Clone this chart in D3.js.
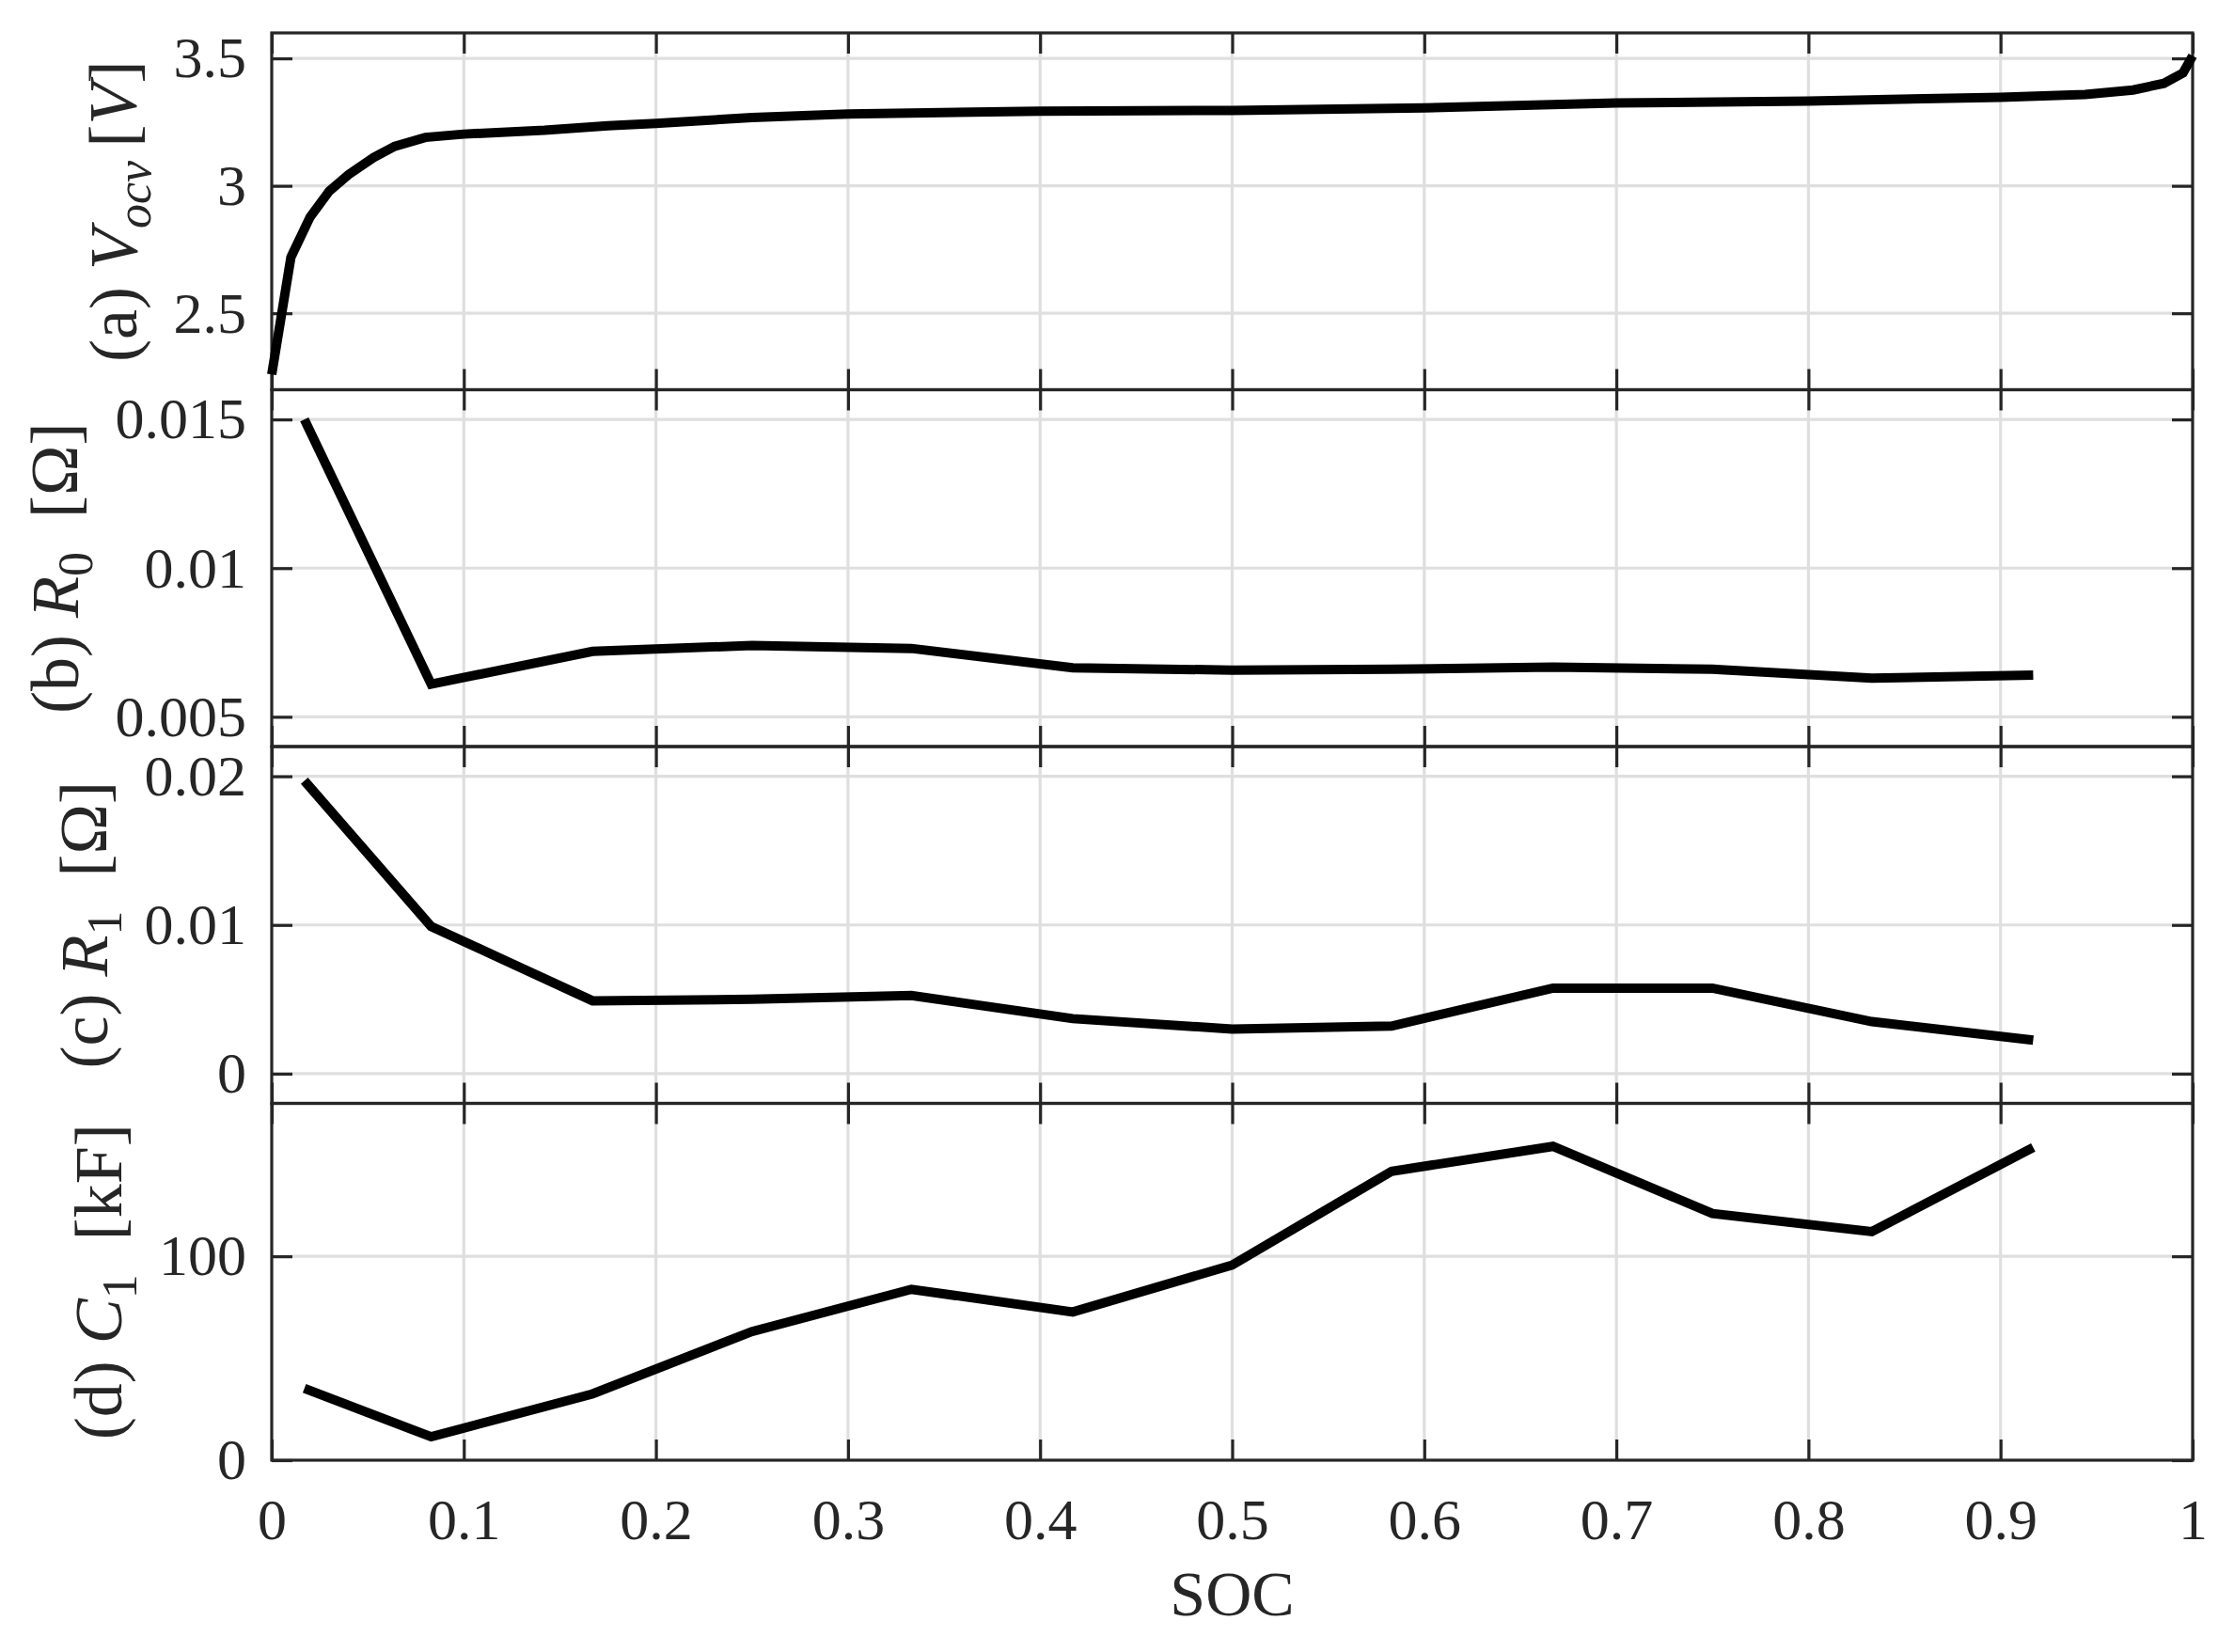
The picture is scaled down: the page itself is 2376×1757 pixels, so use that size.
<!DOCTYPE html>
<html>
<head>
<meta charset="utf-8">
<script src="https://cdn.jsdelivr.net/npm/d3@7"></script>
<style>
  body { margin: 0; background: #fff; }
  svg { display: block; }
  text { font-family: "Liberation Serif", "Times New Roman", serif; fill: #262626; }
</style>
</head>
<body>
<svg width="2376" height="1757"></svg>
<script>
// SOC sample points for the parameter curves
const socPts = [0.017, 0.083, 0.167, 0.25, 0.333, 0.417, 0.5, 0.583, 0.667, 0.75, 0.833, 0.917];
const r0 = [0.0150, 0.0061, 0.0072, 0.0074, 0.0073, 0.00665, 0.00657, 0.0066, 0.00667, 0.0066, 0.0063, 0.0064];
const r1 = [0.0197, 0.0099, 0.0049, 0.0050, 0.00525, 0.0037, 0.0030, 0.0032, 0.00575, 0.00575, 0.0035, 0.00225];
const c1 = [35.2, 11.5, 32.5, 63.1, 83.8, 72.7, 95.7, 141.7, 153.9, 121, 112.1, 153.4];

// open circuit voltage curve
const socOcv = [0, 0.01, 0.02, 0.03, 0.04, 0.053, 0.064, 0.08, 0.1, 0.142, 0.175, 0.2, 0.25, 0.3,
                0.4, 0.5, 0.6, 0.7, 0.8, 0.9, 0.944, 0.969, 0.985, 0.995, 1.0];
const vOcv = [2.26, 2.72, 2.878, 2.98, 3.044, 3.111, 3.155, 3.19, 3.203, 3.218, 3.236, 3.245, 3.268, 3.282,
              3.293, 3.296, 3.306, 3.325, 3.333, 3.347, 3.358, 3.376, 3.402, 3.443, 3.51];

const xTicks = [0, 0.1, 0.2, 0.3, 0.4, 0.5, 0.6, 0.7, 0.8, 0.9, 1];
const ticksA = [2.5, 3, 3.5];
const ticksB = [0.005, 0.01, 0.015];
const ticksC = [0, 0.01, 0.02];
const ticksD = [0, 100];

const svg = d3.select("svg");
const plotL = 289, plotR = 2332, plotT = 35, plotB = 1553;
const panelH = (plotB - plotT) / 4;
const tickLen = 22;
const axisColor = "#262626";
const gridColor = "#dfdfdf";

const x = d3.scaleLinear().domain([0, 1]).range([plotL, plotR]);

const panels = [
  { xs: socOcv, ys: vOcv, domain: [2.2, 3.6], ticks: ticksA,
    label: [["(a) ", ""], ["V", "i"], ["ocv", "is"], ["\u2009[", ""], ["V", "i"], ["]", ""]] },
  { xs: socPts, ys: r0, domain: [0.004, 0.016], ticks: ticksB,
    label: [["(b) ", ""], ["R", "i"], ["0", "s"], ["\u2002[Ω]", ""]] },
  { xs: socPts, ys: r1, domain: [-0.002, 0.022], ticks: ticksC,
    label: [["(c) ", ""], ["R", "i"], ["1", "s"], ["\u2002[Ω]", ""]] },
  { xs: socPts, ys: c1, domain: [0, 175], ticks: ticksD,
    label: [["(d) ", ""], ["C", "i"], ["1", "s"], ["\u2002[kF]", ""]] }
];

function styleAxis(g) {
  g.select(".domain").remove();
  g.selectAll(".tick line").attr("stroke", axisColor).attr("stroke-width", 3.2);
  g.selectAll(".tick text").attr("font-size", 62).attr("fill", axisColor)
    .attr("font-family", "Liberation Serif, Times New Roman, serif");
}

panels.forEach((p, i) => {
  const y0 = plotT + i * panelH, y1 = y0 + panelH;
  const y = d3.scaleLinear().domain(p.domain).range([y1, y0]);
  const g = svg.append("g");

  // grid
  g.append("g").selectAll("line")
    .data(xTicks.slice(1, -1)).enter().append("line")
    .attr("x1", d => x(d)).attr("x2", d => x(d))
    .attr("y1", y0).attr("y2", y1)
    .attr("stroke", gridColor).attr("stroke-width", 3.2);
  g.append("g").selectAll("line")
    .data(p.ticks.filter(t => y(t) > y0 + 2 && y(t) < y1 - 2)).enter().append("line")
    .attr("x1", plotL).attr("x2", plotR)
    .attr("y1", d => y(d)).attr("y2", d => y(d))
    .attr("stroke", gridColor).attr("stroke-width", 3.2);

  // ticks on all four sides, pointing inward
  const yl = g.append("g").attr("transform", `translate(${plotL},0)`)
    .call(d3.axisLeft(y).tickValues(p.ticks).tickSizeInner(-tickLen).tickSizeOuter(0)
      .tickPadding(27).tickFormat(d => String(d)))
    .call(styleAxis);
  g.append("g").attr("transform", `translate(${plotR},0)`)
    .call(d3.axisRight(y).tickValues(p.ticks).tickSizeInner(-tickLen).tickSizeOuter(0).tickFormat(""))
    .call(styleAxis);
  g.append("g").attr("transform", `translate(0,${y0})`)
    .call(d3.axisTop(x).tickValues(xTicks).tickSizeInner(-tickLen).tickSizeOuter(0).tickFormat(""))
    .call(styleAxis);
  g.append("g").attr("transform", `translate(0,${y1})`)
    .call(d3.axisBottom(x).tickValues(xTicks).tickSizeInner(-tickLen).tickSizeOuter(0)
      .tickPadding(40).tickFormat(i === 3 ? (d => String(d)) : ""))
    .call(styleAxis);

  // box
  g.append("rect")
    .attr("x", plotL).attr("y", y0).attr("width", plotR - plotL).attr("height", panelH)
    .attr("fill", "none").attr("stroke", axisColor).attr("stroke-width", 3.2);

  // data line
  const line = d3.line().x(d => x(d[0])).y(d => y(d[1]));
  g.append("path")
    .datum(p.xs.map((s, k) => [s, p.ys[k]]))
    .attr("d", line)
    .attr("fill", "none").attr("stroke", "#000").attr("stroke-width", 10)
    .attr("stroke-linejoin", "miter");

  // y label placed left of the widest tick label
  let minX = plotL;
  yl.selectAll(".tick text").each(function () {
    const b = this.getBBox();
    minX = Math.min(minX, plotL + b.x);
  });
  const lx = minX - 40;
  const txt = g.append("text")
    .attr("transform", `translate(${lx},${(y0 + y1) / 2}) rotate(-90)`)
    .attr("text-anchor", "middle")
    .attr("font-size", 72);
  p.label.forEach(([s, st], k) => {
    const prevSub = k > 0 && p.label[k - 1][1].includes("s");
    const t = txt.append("tspan").text(s);
    if (st.includes("i")) t.attr("font-style", "italic");
    if (st.includes("s")) t.attr("font-size", 52).attr("dy", "0.3em");
    else if (prevSub) t.attr("dy", "-0.22em");
  });
});

// x axis title
svg.append("text")
  .attr("x", (plotL + plotR) / 2).attr("y", 1718)
  .attr("text-anchor", "middle")
  .attr("font-size", 68)
  .text("SOC");
</script>
</body>
</html>
